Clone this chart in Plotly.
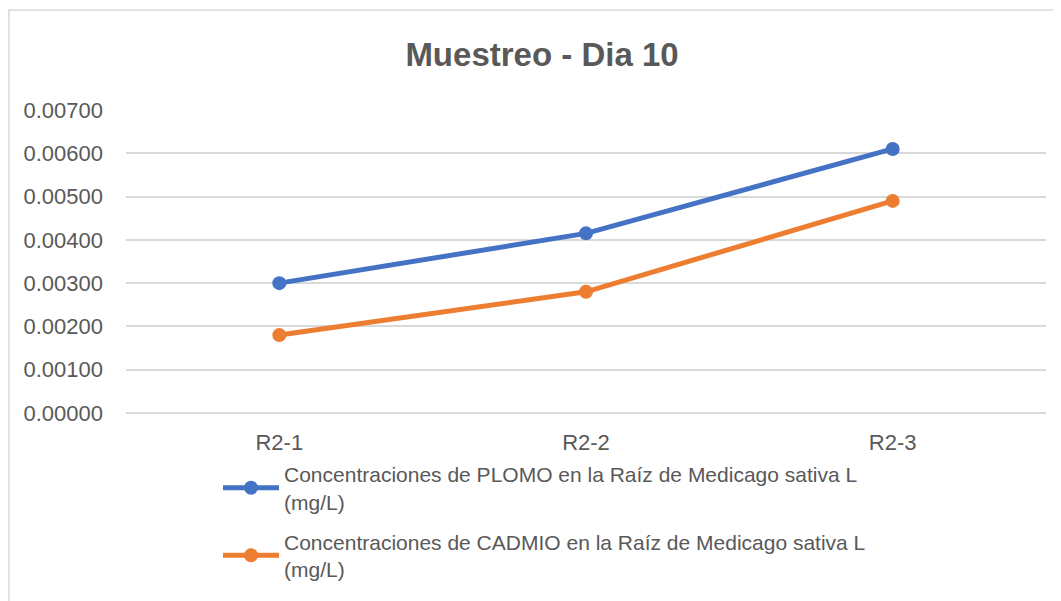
import plotly.graph_objects as go

muestras = ["R2-1", "R2-2", "R2-3"]
plomo = [0.0030, 0.00415, 0.0061]
cadmio = [0.0018, 0.0028, 0.0049]
nombre_plomo = "Concentraciones de PLOMO en la Raíz de Medicago sativa L<br>(mg/L)"
nombre_cadmio = "Concentraciones de CADMIO en la Raíz de Medicago sativa L<br>(mg/L)"

# page has an 8px body margin, so figure coords are shifted by 8px
W, H = 1061, 601
L, R, T, B = 118, 23, 102, 196
pw, ph = W - L - R, H - T - B

fig = go.Figure()
fig.add_trace(go.Scatter(
    x=muestras, y=plomo, name=nombre_plomo, mode="lines+markers", legendgroup="plomo",
    line=dict(color="#4472C4", width=5), marker=dict(size=14, color="#4472C4"),
))
fig.add_trace(go.Scatter(
    x=muestras, y=cadmio, name=nombre_cadmio, mode="lines+markers", legendgroup="cadmio",
    line=dict(color="#ED7D31", width=5), marker=dict(size=14, color="#ED7D31"),
))

# chart border like the Excel chart area
fig.add_shape(
    type="rect", xref="paper", yref="paper",
    x0=(1 - L) / pw, x1=(1080 - L) / pw,
    y0=(H - B - 620) / ph, y1=(H - B - 2) / ph,
    line=dict(color="#D9D9D9", width=1.5), layer="below",
)

fig.update_layout(
    width=W, height=H,
    margin=dict(l=L, r=R, t=T, b=B),
    paper_bgcolor="white", plot_bgcolor="white",
    font=dict(family="Liberation Sans, Arial, sans-serif", size=22, color="#595959"),
    title=dict(
        text="<b>Muestreo - Dia 10</b>", x=534 / W, xanchor="center",
        y=1 - 46 / H, yanchor="middle",
        font=dict(size=33, color="#595959"),
    ),
    xaxis=dict(
        type="category", range=[-0.5, 2.5], showgrid=False, zeroline=False,
        showline=False, ticks="", ticklabelstandoff=14,
    ),
    yaxis=dict(
        range=[0, 0.007], dtick=0.001, tickformat=".5f",
        showgrid=True, gridcolor="#D9D9D9", gridwidth=1.5,
        zeroline=True, zerolinecolor="#D9D9D9", zerolinewidth=1.5,
        showline=False, ticks="", ticklabelstandoff=22,
    ),
    legend=dict(
        x=(210 - L) / pw, xanchor="left", y=-0.135, yanchor="top",
        font=dict(size=21, color="#595959"), bgcolor="rgba(0,0,0,0)",
        tracegroupgap=10, itemwidth=56,
    ),
    showlegend=True,
)

fig.write_html("out.html")
